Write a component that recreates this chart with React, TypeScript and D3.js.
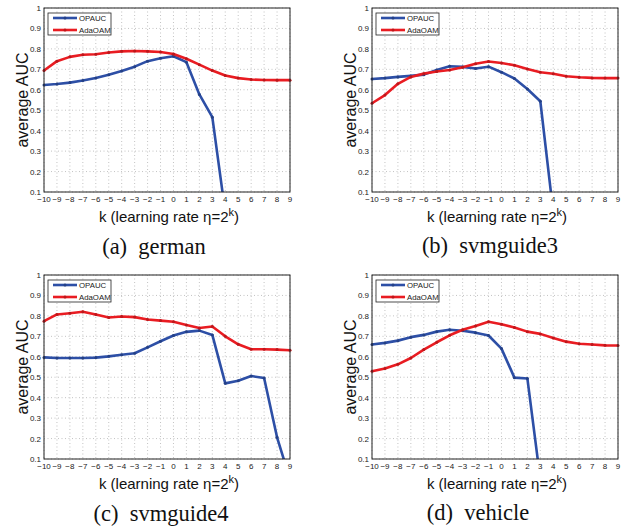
import React from 'react'
import * as d3 from 'd3'

// learning rate exponent k (eta = 2^k)
const kValues = [-10, -9, -8, -7, -6, -5, -4, -3, -2, -1, 0, 1, 2, 3, 4, 5, 6, 7, 8, 9]
const yTicks = [0.1, 0.2, 0.3, 0.4, 0.5, 0.6, 0.7, 0.8, 0.9, 1]
const seriesNames = ['OPAUC', 'AdaOAM']

// average AUC; OPAUC diverges below the axis and is cut there
const germanOPAUC = [0.623, 0.628, 0.635, 0.645, 0.658, 0.673, 0.692, 0.713, 0.74, 0.754, 0.764, 0.735, 0.577, 0.466, 0.0]
const germanAdaOAM = [0.694, 0.74, 0.761, 0.771, 0.774, 0.782, 0.788, 0.79, 0.788, 0.785, 0.775, 0.752, 0.723, 0.694, 0.67, 0.657, 0.65, 0.648, 0.647, 0.647]

const svmguide3OPAUC = [0.653, 0.657, 0.663, 0.668, 0.674, 0.697, 0.715, 0.712, 0.704, 0.713, 0.686, 0.655, 0.604, 0.544, 0.0]
const svmguide3AdaOAM = [0.534, 0.574, 0.629, 0.663, 0.679, 0.689, 0.697, 0.71, 0.727, 0.738, 0.731, 0.72, 0.702, 0.686, 0.678, 0.666, 0.661, 0.658, 0.657, 0.657]

const svmguide4OPAUC = [0.597, 0.594, 0.594, 0.594, 0.596, 0.602, 0.61, 0.617, 0.646, 0.676, 0.704, 0.722, 0.728, 0.707, 0.47, 0.483, 0.506, 0.496, 0.206, 0.0]
const svmguide4AdaOAM = [0.774, 0.807, 0.813, 0.82, 0.807, 0.792, 0.797, 0.794, 0.782, 0.777, 0.771, 0.755, 0.741, 0.748, 0.7, 0.661, 0.637, 0.637, 0.635, 0.632]

const vehicleOPAUC = [0.66, 0.668, 0.679, 0.696, 0.707, 0.723, 0.732, 0.727, 0.718, 0.704, 0.64, 0.498, 0.494, 0.0]
const vehicleAdaOAM = [0.529, 0.543, 0.563, 0.594, 0.635, 0.671, 0.705, 0.732, 0.751, 0.771, 0.759, 0.743, 0.723, 0.712, 0.692, 0.674, 0.664, 0.66, 0.656, 0.655]

const BLUE = '#2d4fa6'
const RED = '#e91c22'
const colors = [BLUE, RED]
const SANS = '"Liberation Sans", Arial, sans-serif'
const SERIF = '"Liberation Serif", "Times New Roman", serif'

const W = 246
const H = 184

const panels = [
  { tag: '(a)', name: 'german', series: [germanOPAUC, germanAdaOAM], left: 44, top: 8, capX: 154, capY: 254 },
  { tag: '(b)', name: 'svmguide3', series: [svmguide3OPAUC, svmguide3AdaOAM], left: 372, top: 8, capX: 490, capY: 253 },
  { tag: '(c)', name: 'svmguide4', series: [svmguide4OPAUC, svmguide4AdaOAM], left: 44, top: 275, capX: 161, capY: 521 },
  { tag: '(d)', name: 'vehicle', series: [vehicleOPAUC, vehicleAdaOAM], left: 372, top: 275, capX: 478, capY: 520 },
]

const fmt = (v: number) => (v === 1 ? '1' : d3.format('.1f')(v))
const fmtK = (k: number) => (k < 0 ? '\u2212' + Math.abs(k) : String(k))

const Panel = ({ p, idx }: { p: (typeof panels)[number]; idx: number }) => {
  const x = d3.scaleLinear().domain([-10, 9]).range([0, W])
  const y = d3.scaleLinear().domain([0.1, 1]).range([H, 0])
  const line = d3
    .line<number>()
    .x((_, i) => x(kValues[i]))
    .y((d) => y(d))
  const clipId = `clip-${idx}`

  return (
    <g transform={`translate(${p.left},${p.top})`}>
      <defs>
        <clipPath id={clipId}>
          <rect x={-2} y={-2} width={W + 4} height={H + 2} />
        </clipPath>
      </defs>
      <rect width={W} height={H} fill='#fff' />
      {/* dotted grid */}
      {kValues.map((k) => (
        <line key={'gx' + k} x1={x(k)} x2={x(k)} y1={0} y2={H} stroke='#b4b4b4' strokeWidth={0.8} strokeDasharray='1,2.5' />
      ))}
      {yTicks.map((t) => (
        <line key={'gy' + t} x1={0} x2={W} y1={y(t)} y2={y(t)} stroke='#b4b4b4' strokeWidth={0.8} strokeDasharray='1,2.5' />
      ))}
      {/* tick labels */}
      {yTicks.map((t) => (
        <text key={'ty' + t} x={-3} y={y(t) + 3} textAnchor='end' fontSize={8} fontFamily={SANS} fill='#222'>
          {fmt(t)}
        </text>
      ))}
      {kValues.map((k) => (
        <text key={'tx' + k} x={x(k)} y={H + 10} textAnchor='middle' fontSize={8} fontFamily={SANS} fill='#222'>
          {fmtK(k)}
        </text>
      ))}
      {/* series */}
      <g clipPath={`url(#${clipId})`}>
        {p.series.map((s, si) => (
          <g key={'s' + si}>
            <path d={line(s) || ''} fill='none' stroke={colors[si]} strokeWidth={2.6} strokeLinejoin='round' />
            {s.map((v, i) => (
              <circle key={i} cx={x(kValues[i])} cy={y(v)} r={1.5} fill={d3.color(colors[si])!.darker(0.6).toString()} />
            ))}
          </g>
        ))}
      </g>
      <rect width={W} height={H} fill='none' stroke='#222' strokeWidth={1} />
      {/* legend */}
      <g transform='translate(4,5)'>
        <rect width={63} height={22} fill='#fff' stroke='#222' strokeWidth={0.8} />
        {seriesNames.map((n, i) => (
          <g key={n} transform={`translate(0,${5 + i * 12})`}>
            <line x1={5} x2={29} y1={0} y2={0} stroke={colors[i]} strokeWidth={2.6} />
            <circle cx={17} cy={0} r={1.5} fill={d3.color(colors[i])!.darker(0.6).toString()} />
            <text x={31} y={3} fontSize={7.8} fontFamily={SANS} fill='#222'>
              {n}
            </text>
          </g>
        ))}
      </g>
      {/* axis labels */}
      <text
        transform={`translate(${-22},${H / 2}) rotate(-90)`}
        textAnchor='middle'
        dy='0.35em'
        fontSize={16}
        fontFamily={SANS}
        fill='#111'
      >
        average AUC
      </text>
      <text x={W / 2 + 2} y={H + 30} textAnchor='middle' fontSize={15} fontFamily={SANS} fill='#111'>
        k (learning rate η=2
        <tspan dy={-6} fontSize={11}>
          k
        </tspan>
        <tspan dy={6}>)</tspan>
      </text>
      <text
        x={p.capX - p.left}
        y={p.capY - p.top}
        textAnchor='middle'
        fontSize={22.5}
        fontFamily={SERIF}
        fill='#111'
        style={{ whiteSpace: 'pre' }}
      >
        {`${p.tag}  ${p.name}`}
      </text>
    </g>
  )
}

export default function App() {
  return (
    <svg width={629} height={531} style={{ position: 'absolute', left: 0, top: 0, background: '#fff' }}>
      <rect width={629} height={531} fill='#fff' />
      {panels.map((p, i) => (
        <Panel key={p.name} p={p} idx={i} />
      ))}
    </svg>
  )
}
